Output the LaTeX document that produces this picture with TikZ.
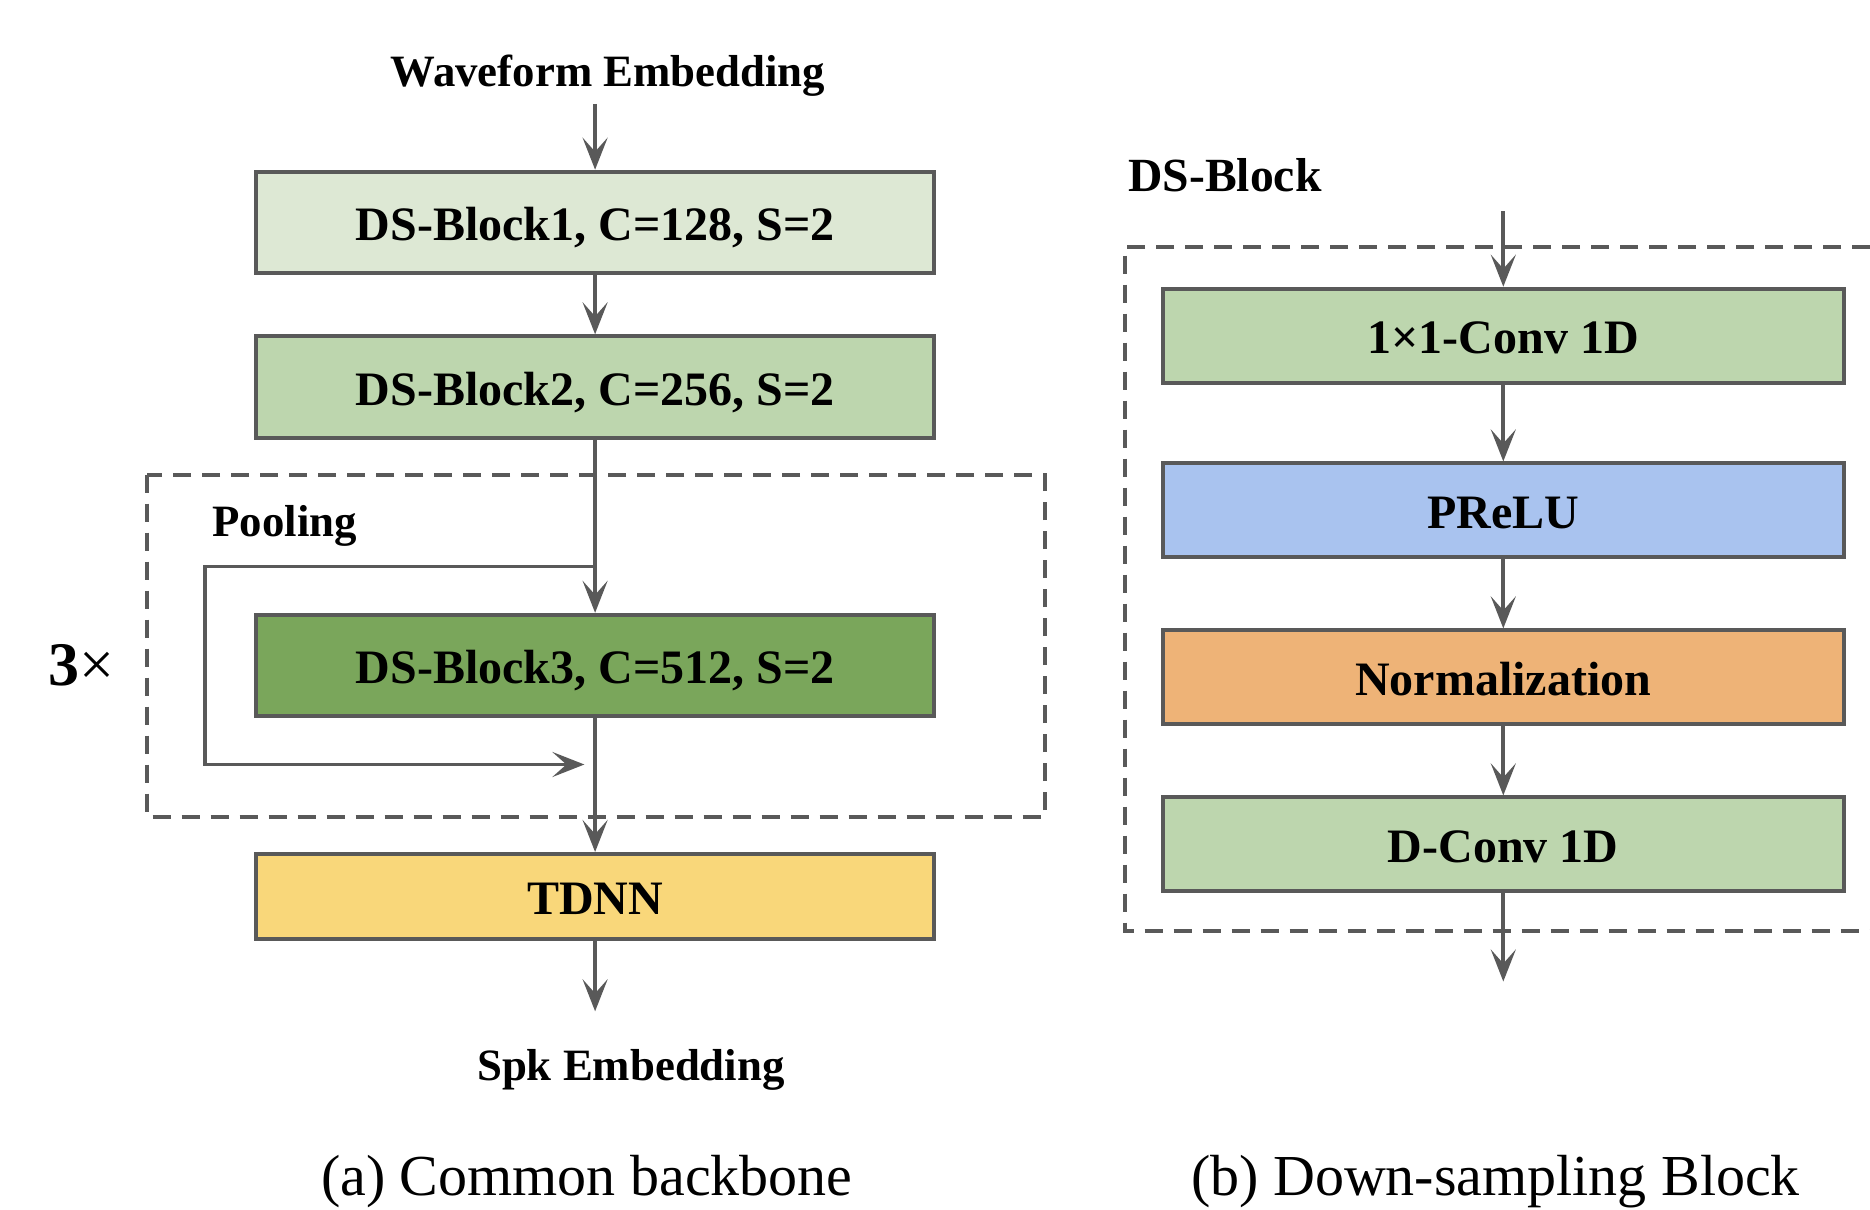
\documentclass[tikz,border=0pt]{standalone}
\usepackage{fontspec}
\setmainfont{Liberation Serif}
\usetikzlibrary{arrows.meta}
\definecolor{edge}{HTML}{595959}
\definecolor{gA}{HTML}{DDE8D4}
\definecolor{gB}{HTML}{BDD6AE}
\definecolor{gC}{HTML}{7AA65B}
\definecolor{yel}{HTML}{F9D77A}
\definecolor{blu}{HTML}{A9C3EF}
\definecolor{org}{HTML}{EEB377}
\tikzset{
  blk/.style={draw=edge, line width=2pt, minimum width=338.7pt, minimum height=50.7pt,
    inner sep=0pt, text height=18.2pt, text depth=0pt, font=\fontsize{24}{28}\selectfont\bfseries},
  rblk/.style={blk, minimum width=340.4pt, minimum height=47pt},
  lbl/.style={inner sep=0pt, font=\fontsize{22.4}{26}\selectfont\bfseries},
  captext/.style={inner sep=0pt, font=\fontsize{29}{33}\selectfont},
  conn/.style={draw=edge, line width=1.9pt, -{Stealth[length=16pt,width=12.5pt,inset=7pt]}},
  dbox/.style={draw=edge, line width=2pt, dash pattern=on 9pt off 5.5pt}
}
\begin{document}
\begin{tikzpicture}[x=0.5pt,y=-0.5pt]
\useasboundingbox (0,0) rectangle (1870,1210);
% ---------- left ----------
\node[lbl] (wave) at (608,76) {Waveform Embedding};
\coordinate (win) at (595.1,103.8);
\node[blk, fill=gA] (b1) at (595.1,222.4) {DS-Block1, C=128, S=2};
\node[blk, fill=gB] (b2) at (595.1,387) {DS-Block2, C=256, S=2};
\draw[dbox] (146.7,474.7) rectangle (1044.7,816.9);
\node[lbl, anchor=west] (pool) at (212,526) {Pooling};
\node[blk, fill=gC] (b3) at (595.1,665.5) {DS-Block3, C=512, S=2};
\node[blk, fill=yel, minimum height=42.3pt] (tdnn) at (595.1,896.3) {TDNN};
\node[inner sep=0pt, font=\fontsize{31}{35}\selectfont] (rep) at (81,665) {\textbf{3}×};
\coordinate (wout) at (595.1,1011.3);
\node[lbl] (spk) at (630.9,1070) {Spk Embedding};
\coordinate (fb0) at (595.1,566.5);
\coordinate (fb1) at (205.1,566.5);
\coordinate (fb2) at (205.1,764.5);
\coordinate (fb3) at (584.4,764.5);
\draw[conn] (win) -- (b1.north);
\draw[conn] (b1.south) -- (b2.north);
\draw[conn] (b2.south) -- (b3.north);
\draw[conn] (fb0) -- (fb1) -- (fb2) -- (fb3);
\draw[conn] (b3.south) -- (tdnn.north);
\draw[conn] (tdnn.south) -- (wout);
\node[captext] (capa) at (586.8,1182) {(a) Common backbone};
% ---------- right ----------
\node[inner sep=0pt, anchor=west, font=\fontsize{23.8}{27}\selectfont\bfseries] (dsb) at (1128,175.3) {DS-Block};
\draw[dbox] (1870,246.9) -- (1124.6,246.9) -- (1124.6,931.4) -- (1870,931.4);
\coordinate (rin) at (1503.3,211);
\node[rblk, fill=gB] (c1) at (1503.3,335.7) {1×1-Conv 1D};
\node[rblk, fill=blu] (pr) at (1503.3,510.4) {PReLU};
\node[rblk, fill=org] (nm) at (1503.3,677.4) {Normalization};
\node[rblk, fill=gB] (dc) at (1503.3,844.4) {D-Conv 1D};
\coordinate (rout) at (1503.3,981.5);
\draw[conn] (rin) -- (c1.north);
\draw[conn] (c1.south) -- (pr.north);
\draw[conn] (pr.south) -- (nm.north);
\draw[conn] (nm.south) -- (dc.north);
\draw[conn] (dc.south) -- (rout);
\node[captext] (capb) at (1495.5,1182) {(b) Down-sampling Block};
\end{tikzpicture}
\end{document}
